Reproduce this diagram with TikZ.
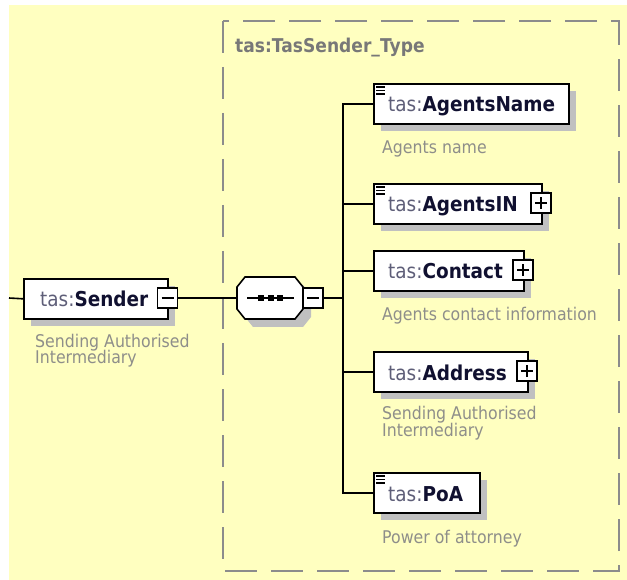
\documentclass[tikz,border=0pt]{standalone}
\usepackage{fontspec}
\setmainfont{DejaVu Sans}[FakeStretch=0.9]
\definecolor{bg}{HTML}{FFFFC0}
\definecolor{shd}{HTML}{C0C0C0}
\definecolor{pfxc}{HTML}{5E5E78}
\definecolor{nmc}{HTML}{101030}
\definecolor{dscc}{HTML}{8E8E8A}
\definecolor{dashc}{HTML}{8C8C8C}
\definecolor{titc}{HTML}{787878}
\newcommand{\dscfont}{\fontsize{17.5}{15}\selectfont}
\tikzset{
  elbox/.style={draw=black, line width=1.6pt, fill=white, minimum height=40pt, inner sep=0pt, anchor=north west},
  pmbox/.style={draw=black, line width=1.4pt, fill=white, minimum width=20pt, minimum height=20pt, inner sep=0pt},
  conn/.style={draw=black, line width=1.6pt},
  nmtext/.style={anchor=base west, inner sep=0pt, font=\fontsize{20.5}{22}\selectfont},
  dsctext/.style={anchor=base west, inner sep=0pt, align=left, text=dscc, font=\dscfont},
  shadowfill/.style={fill=shd},
  iconline/.style={draw=black, line width=1.3pt},
  signline/.style={draw=black, line width=1.5pt},
}
\newcommand{\elname}[1]{{\color{pfxc}tas:}{\color{nmc}\bfseries #1}}
\begin{document}
\begin{tikzpicture}[x=1pt,y=-1pt]
\useasboundingbox (0,0) rectangle (627,580);
\fill[bg] (9,5) rectangle (627,580);
% complex type frame
\draw[dashc, line width=2pt, dash pattern=on 32pt off 14pt] (223,21) rectangle (619,571);
\node[anchor=base west, inner sep=0pt, text=titc, font=\fontsize{19}{20}\selectfont\bfseries] (title) at (235,53) {tas:TasSender\_Type};

% Sender element
\fill[shadowfill] (31,286) rectangle (175,326);
\node[elbox, minimum width=144pt] (sender) at (23,278) {};
\node[nmtext] (sendert) at (40,307) {\elname{Sender}};
\node[pmbox] (sendm) at (167.5,298) {};
\draw[signline] ([xshift=-6pt]sendm.center) -- ([xshift=6pt]sendm.center);
\node[dsctext] (senderd) at (35,364) {Sending Authorised\\[-1.2pt]Intermediary};
\coordinate (lin) at (9,298);
\draw[conn] (lin) -- (sender.west);

% sequence compositor
\fill[shadowfill] (253,285) -- (303,285) -- (311,295) -- (311,317) -- (303,327) -- (253,327) -- (245,317) -- (245,295) -- cycle;
\filldraw[fill=white, draw=black, line width=1.6pt] (245,277) -- (295,277) -- (303,287) -- (303,309) -- (295,319) -- (245,319) -- (237,309) -- (237,287) -- cycle;
\node[minimum width=66pt, minimum height=42pt, inner sep=0pt] (seq) at (270,298) {};
\draw[line width=1.6pt] (247,298) -- (294,298);
\foreach \cx in {260.5,270.5,280} {\fill[black] (\cx-3,295) rectangle (\cx+3,301);}
\node[pmbox] (seqm) at (313,298) {};
\draw[signline] ([xshift=-6pt]seqm.center) -- ([xshift=6pt]seqm.center);
\draw[conn] (sendm.east) -- (seq.west);
\coordinate (trunk) at (343,298);
\draw[conn] (seqm.east) -- (trunk);

% AgentsName
\fill[shadowfill] (381,91) rectangle (576,131);
\node[elbox, minimum width=195pt] (an) at (373,83) {};
\draw[iconline] (376,87) -- (385,87) (376,90.5) -- (385,90.5) (376,94) -- (385,94);
\node[nmtext] (ant) at (388,112) {\elname{AgentsName}};
\node[dsctext] (and) at (382,154) {Agents name};

% AgentsIN
\fill[shadowfill] (381,191) rectangle (549,231);
\node[elbox, minimum width=168pt] (ain) at (373,183) {};
\draw[iconline] (376,187) -- (385,187) (376,190.5) -- (385,190.5) (376,194) -- (385,194);
\node[nmtext] (aint) at (388,212) {\elname{AgentsIN}};
\node[pmbox] (ainp) at (541,203) {};
\draw[signline] ([xshift=-6pt]ainp.center) -- ([xshift=6pt]ainp.center) ([yshift=-6pt]ainp.center) -- ([yshift=6pt]ainp.center);

% Contact
\fill[shadowfill] (381,258) rectangle (531,298);
\node[elbox, minimum width=150pt] (ct) at (373,250) {};
\node[nmtext] (ctt) at (388,279) {\elname{Contact}};
\node[pmbox] (ctp) at (523,270) {};
\draw[signline] ([xshift=-6pt]ctp.center) -- ([xshift=6pt]ctp.center) ([yshift=-6pt]ctp.center) -- ([yshift=6pt]ctp.center);
\node[dsctext] (ctd) at (382,321) {Agents contact information};

% Address
\fill[shadowfill] (381,359) rectangle (535,399);
\node[elbox, minimum width=154pt] (ad) at (373,351) {};
\node[nmtext] (adt) at (388,380) {\elname{Address}};
\node[pmbox] (adp) at (527,371) {};
\draw[signline] ([xshift=-6pt]adp.center) -- ([xshift=6pt]adp.center) ([yshift=-6pt]adp.center) -- ([yshift=6pt]adp.center);
\node[dsctext] (add) at (382,436) {Sending Authorised\\[-1.2pt]Intermediary};

% PoA
\fill[shadowfill] (381,480) rectangle (487,520);
\node[elbox, minimum width=106pt] (poa) at (373,472) {};
\draw[iconline] (376,476) -- (385,476) (376,479.5) -- (385,479.5) (376,483) -- (385,483);
\node[nmtext] (poat) at (388,501) {\elname{PoA}};
\node[dsctext] (poad) at (382,543) {Power of attorney};

% tree connectors
\draw[conn] (an.west) -| (trunk);
\draw[conn] (ain.west) -| (trunk);
\draw[conn] (ct.west) -| (trunk);
\draw[conn] (ad.west) -| (trunk);
\draw[conn] (poa.west) -| (trunk);
\end{tikzpicture}
\end{document}
